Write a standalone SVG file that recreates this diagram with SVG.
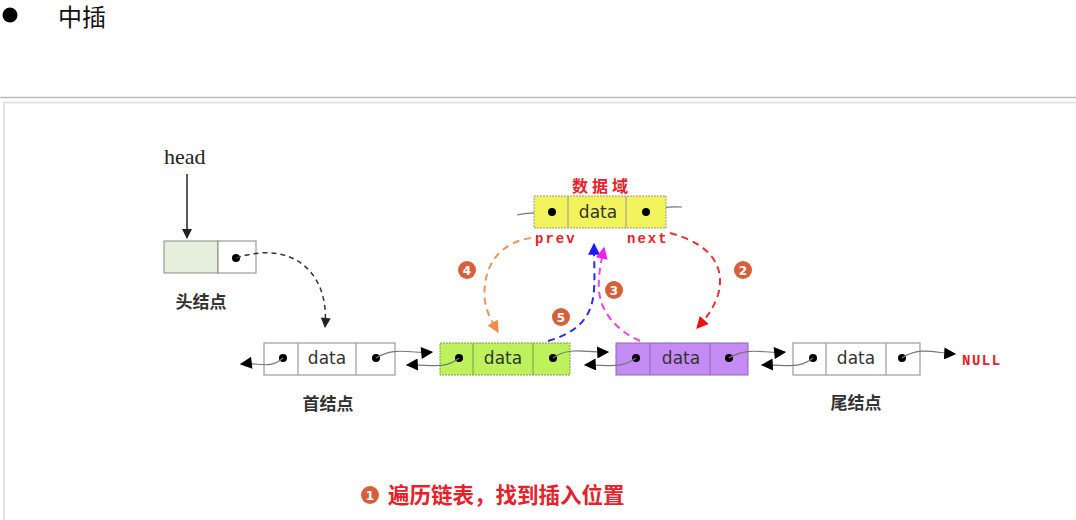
<svg xmlns="http://www.w3.org/2000/svg" width="1076" height="520" viewBox="0 0 1076 520">
<style>
.box{stroke:#888;stroke-width:1}
.dot{fill:#000}
.dt{font-family:"DejaVu Sans","Liberation Sans",sans-serif;font-size:17px;fill:#333;text-anchor:middle}
.lbl{font-family:"Noto Sans CJK SC",sans-serif;font-weight:bold;font-size:17px;fill:#333;text-anchor:middle}
.link{fill:none;stroke:#777;stroke-width:1.2}
.dash{fill:none;stroke-width:2;stroke-dasharray:7,5}
.num{fill:#d7603c}
.numt{font-family:"DejaVu Sans",sans-serif;font-weight:bold;font-size:12px;fill:#fff;text-anchor:middle}
.red{font-family:"Liberation Mono","DejaVu Sans Mono",monospace;font-weight:bold;font-size:14px;fill:#e8202a}
</style>
<defs>
<marker id="tri" viewBox="0 0 10 10" refX="9" refY="5" markerWidth="14" markerHeight="12" markerUnits="userSpaceOnUse" orient="auto"><path d="M0,0 L10,5 L0,10 z" fill="#000"/></marker>
<marker id="aBlk" viewBox="0 0 10 10" refX="9" refY="5" markerWidth="12" markerHeight="10" markerUnits="userSpaceOnUse" orient="auto"><path d="M0,0 L10,5 L0,10 z" fill="#222"/></marker>
<marker id="aRed" viewBox="0 0 10 10" refX="9" refY="5" markerWidth="14" markerHeight="12" markerUnits="userSpaceOnUse" orient="auto"><path d="M0,0 L10,5 L0,10 z" fill="#f01010"/></marker>
<marker id="aOr" viewBox="0 0 10 10" refX="9" refY="5" markerWidth="14" markerHeight="12" markerUnits="userSpaceOnUse" orient="auto"><path d="M0,0 L10,5 L0,10 z" fill="#f58a4a"/></marker>
<marker id="aBl" viewBox="0 0 10 10" refX="9" refY="5" markerWidth="14" markerHeight="12" markerUnits="userSpaceOnUse" orient="auto"><path d="M0,0 L10,5 L0,10 z" fill="#1a1aff"/></marker>
<marker id="aMg" viewBox="0 0 10 10" refX="9" refY="5" markerWidth="14" markerHeight="12" markerUnits="userSpaceOnUse" orient="auto"><path d="M0,0 L10,5 L0,10 z" fill="#f020f0"/></marker>
</defs>
<rect width="1076" height="520" fill="#fff"/>
<!-- header -->
<circle cx="10" cy="15" r="7.5" fill="#000"/>
<text x="58" y="26" font-family="Noto Sans CJK SC,sans-serif" font-size="24" fill="#111">中插</text>
<line x1="0" y1="97.5" x2="1076" y2="97.5" stroke="#bbb" stroke-width="1.5"/>
<path d="M4,520 V102.5 H1076" fill="none" stroke="#e2e2e2" stroke-width="2"/>

<!-- head -->
<g id="headlabel">
<text x="164" y="164" font-family="Liberation Serif,serif" font-size="22" fill="#222">head</text>
<line x1="187" y1="174" x2="187" y2="238" stroke="#222" stroke-width="1.5" marker-end="url(#aBlk)"/>
</g>
<g id="headnode">
<rect x="164" y="241" width="54" height="32" fill="#e6efdc" class="box"/>
<rect x="218" y="241" width="38" height="32" fill="#fff" class="box"/>
<circle cx="236" cy="258" r="4" class="dot"/>
<text x="201" y="308" class="lbl">头结点</text>
</g>

<!-- node first -->
<g id="first">
<rect x="264" y="343" width="131" height="32" fill="#fff" class="box"/>
<line x1="298" y1="343" x2="298" y2="375" class="box"/>
<line x1="356" y1="343" x2="356" y2="375" class="box"/>
<circle cx="283" cy="358" r="4" class="dot"/>
<text x="327" y="364" class="dt">data</text>
<circle cx="376" cy="358" r="4" class="dot"/>
<text x="328" y="410" class="lbl">首结点</text>
</g>

<!-- green -->
<g id="green">
<rect x="440" y="343" width="130" height="32" fill="#bdf25c" stroke="#7a9a4a" stroke-width="1" stroke-dasharray="2,1"/>
<line x1="473" y1="343" x2="473" y2="375" stroke="#7a9a4a"/>
<line x1="533" y1="343" x2="533" y2="375" stroke="#7a9a4a"/>
<circle cx="459" cy="358" r="4" class="dot"/>
<text x="503" y="364" class="dt">data</text>
<circle cx="553" cy="358" r="4" class="dot"/>
</g>

<!-- purple -->
<g id="purple">
<rect x="616" y="343" width="132" height="32" fill="#c48bf4" stroke="#8a6aa8" stroke-width="1"/>
<line x1="650" y1="343" x2="650" y2="375" stroke="#8a6aa8"/>
<line x1="710" y1="343" x2="710" y2="375" stroke="#8a6aa8"/>
<circle cx="636" cy="358" r="4" class="dot"/>
<text x="681" y="364" class="dt">data</text>
<circle cx="729" cy="358" r="4" class="dot"/>
</g>

<!-- tail -->
<g id="tail">
<rect x="793" y="343" width="127" height="32" fill="#fff" class="box"/>
<line x1="826" y1="343" x2="826" y2="375" class="box"/>
<line x1="886" y1="343" x2="886" y2="375" class="box"/>
<circle cx="813" cy="358" r="4" class="dot"/>
<text x="856" y="364" class="dt">data</text>
<circle cx="902" cy="358" r="4" class="dot"/>
<text x="856" y="409" class="lbl">尾结点</text>
<text x="962" y="365" class="red" letter-spacing="1.5">NULL</text>
</g>

<!-- new yellow node -->
<g id="newnode">
<text x="602" y="192" font-family="Noto Sans CJK SC,sans-serif" font-weight="bold" font-size="16" letter-spacing="4" fill="#e8202a" text-anchor="middle">数据域</text>
<path d="M517,215 C530,212 540,213 552,212" class="link"/>
<path d="M646,212 C658,208 668,206 682,207" class="link"/>
<rect x="534" y="196" width="132" height="32" fill="#f2f25c" stroke="#999" stroke-width="1" stroke-dasharray="2,1"/>
<line x1="568" y1="196" x2="568" y2="228" stroke="#999"/>
<line x1="626" y1="196" x2="626" y2="228" stroke="#999"/>
<circle cx="552" cy="212" r="4" class="dot"/>
<text x="598" y="218" class="dt">data</text>
<circle cx="646" cy="212" r="4" class="dot"/>
<text x="535" y="243" class="red" letter-spacing="2">prev</text>
<text x="627" y="243" class="red" letter-spacing="2">next</text>
</g>

<!-- connectors -->
<g id="connectors">
<path d="M236,258 C290,240 330,270 325,327" class="dash" stroke="#333" style="stroke-width:1.5;stroke-dasharray:5,4" marker-end="url(#aBlk)"/>
<path d="M283,358 C270,370 258,362 241,364" class="link" marker-end="url(#tri)"/>
<path d="M376,358 C395,346 410,354 432,352" class="link" marker-end="url(#tri)"/>
<path d="M459,358 C445,370 430,364 407,365" class="link" marker-end="url(#tri)"/>
<path d="M553,358 C570,346 585,353 608,352" class="link" marker-end="url(#tri)"/>
<path d="M636,358 C620,370 605,364 585,365" class="link" marker-end="url(#tri)"/>
<path d="M729,358 C748,346 765,354 785,352" class="link" marker-end="url(#tri)"/>
<path d="M813,358 C798,370 785,364 762,365" class="link" marker-end="url(#tri)"/>
<path d="M902,358 C920,346 935,353 955,354" class="link" marker-end="url(#tri)"/>

<!-- 2 red -->
<path d="M670,233 C715,245 725,270 718,295 C713,310 706,318 697,328" class="dash" stroke="#f03030" marker-end="url(#aRed)"/>
<!-- 4 orange -->
<path d="M531,238 C505,242 488,258 485,285 C482,305 490,318 498,332" class="dash" stroke="#f5905a" marker-end="url(#aOr)"/>
<!-- 5 blue -->
<path d="M548,341 C575,333 592,320 594,290 C595,275 594,262 594,244" class="dash" stroke="#2a2aff" marker-end="url(#aBl)"/>
<!-- 3 magenta -->
<path d="M640,341 C615,330 600,310 599,290 C598,275 601,262 604,248" class="dash" stroke="#f040f0" marker-end="url(#aMg)"/>
</g>

<g id="labels">
<circle cx="743" cy="270" r="9" class="num"/><text x="743" y="274.5" class="numt">2</text>
<circle cx="467" cy="270" r="9" class="num"/><text x="467" y="274.5" class="numt">4</text>
<circle cx="614" cy="290" r="9" class="num"/><text x="614" y="294.5" class="numt">3</text>
<circle cx="561" cy="317" r="9" class="num"/><text x="561" y="321.5" class="numt">5</text>
<circle cx="370" cy="495" r="9" class="num"/><text x="370" y="499.5" class="numt">1</text>
<text x="388" y="503" font-family="Noto Sans CJK SC,sans-serif" font-weight="bold" font-size="21.5" fill="#e8202a">遍历链表，找到插入位置</text>
</g>
</svg>
